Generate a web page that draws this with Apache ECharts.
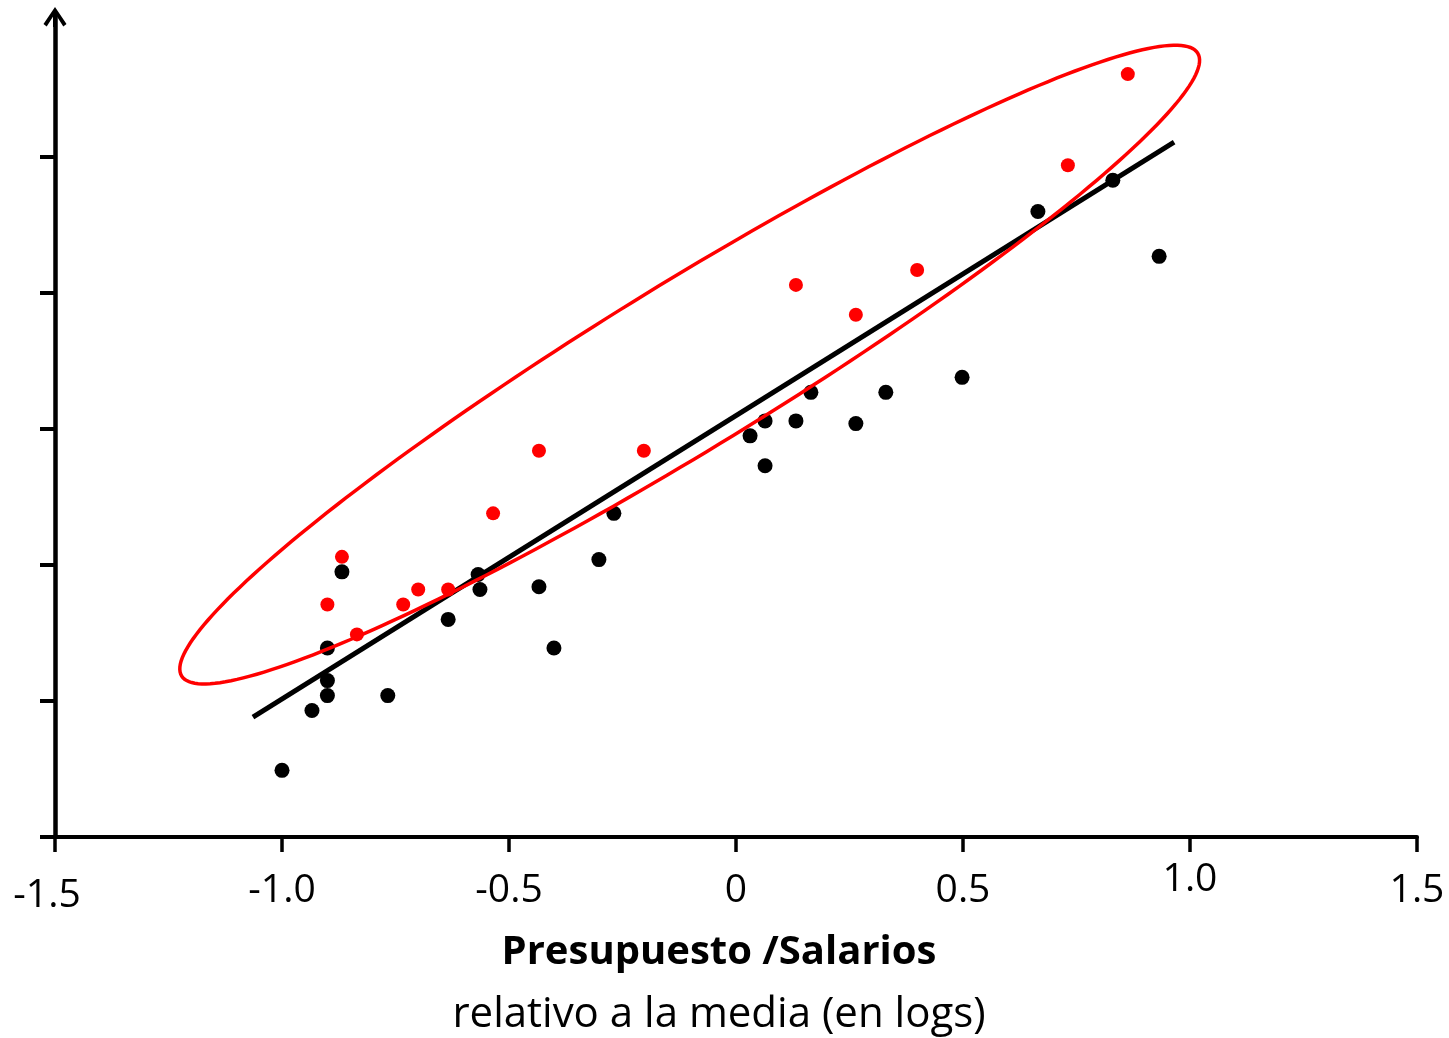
<!DOCTYPE html>
<html>
<head>
<meta charset="utf-8">
<script src="https://cdn.jsdelivr.net/npm/echarts@6/dist/echarts.min.js"></script>
<style>
  html, body { margin: 0; padding: 0; background: #fff; }
  #report-chart { width: 1449px; height: 1038px; }
</style>
</head>
<body>
<div id="report-chart"></div>
<script>
// black points (x: presupuesto/salarios, y: arbitrary units)
var blackX = [-1.0, -0.934, -0.90, -0.90, -0.90, -0.868, -0.767, -0.634, -0.568, -0.564, -0.434, -0.401, -0.302, -0.269,
              0.031, 0.064, 0.064, 0.132, 0.165, 0.264, 0.330, 0.498, 0.665, 0.830, 0.932];
var blackY = [0.49, 0.93, 1.04, 1.15, 1.39, 1.95, 1.04, 1.60, 1.93, 1.82, 1.84, 1.39, 2.04, 2.38,
              2.95, 3.06, 2.73, 3.06, 3.27, 3.04, 3.27, 3.38, 4.60, 4.83, 4.27];
// red points
var redX = [-0.90, -0.868, -0.835, -0.733, -0.700, -0.634, -0.535, -0.434, -0.203, 0.132, 0.264, 0.399, 0.731, 0.863];
var redY = [1.71, 2.06, 1.49, 1.71, 1.82, 1.82, 2.38, 2.84, 2.84, 4.06, 3.84, 4.17, 4.94, 5.61];
// fitted line end points
var lineX = [-1.064, 0.965];
var lineY = [0.882, 5.11];
// ellipse: centre and two conjugate semi-axis vectors (data units)
var ellCenter = [-0.102, 3.474];
var ellU = [1.119, 2.290];
var ellV = [0.096, -0.521];

var xTicks = [-1.5, -1.0, -0.5, 0, 0.5, 1.0, 1.5];
var yTicks = [0, 1, 2, 3, 4, 5];

var chartDom = document.getElementById('report-chart');
var myChart = echarts.init(chartDom);
var option;

function pairs(xs, ys) {
    return xs.map(function (x, i) { return [x, ys[i]]; });
}

var arrowPath = 'path://M11.5,0 L23,17 L19.8,19.6 L11.5,6.5 L3.2,19.6 L0,17 Z M9.5,3 L13.5,3 L13.5,20 L9.5,20 Z';

option = {
    animation: false,
    textStyle: { fontFamily: 'Open Sans' },
    grid: { left: 55, right: 32, top: 17, bottom: 201, outerBoundsMode: 'none', containLabel: false },
    xAxis: {
        type: 'value',
        min: -1.5,
        max: 1.5,
        interval: 0.5,
        splitLine: { show: false },
        axisLine: { lineStyle: { color: '#000', width: 4 } },
        axisTick: { length: 15, lineStyle: { color: '#000', width: 3.5 } },
        axisLabel: {
            showMinLabel: true,
            showMaxLabel: true,
            margin: 34,
            color: '#000',
            fontFamily: 'Open Sans',
            fontSize: 39,
            formatter: function (v) {
                var s = v === 0 ? '0' : v.toFixed(1);
                if (v === -1.5) return '{lo|' + s + '}';
                if (v === 1) return '{hi|' + s + '}';
                return '{n|' + s + '}';
            },
            rich: {
                n: { fontSize: 39, lineHeight: 40, fontFamily: 'Open Sans', color: '#000' },
                hi: { fontSize: 39, lineHeight: 18, fontFamily: 'Open Sans', color: '#000' },
                lo: { fontSize: 39, lineHeight: 50, fontFamily: 'Open Sans', color: '#000', padding: [0, 16, 0, 0] }
            }
        },
        name: '{b|Presupuesto /Salarios}\n{r|relativo a la media (en logs)}',
        nameLocation: 'middle',
        nameGap: 85,
        nameTextStyle: {
            padding: [0, 34, 0, 0],
            rich: {
                b: { fontSize: 40, fontWeight: 'bold', lineHeight: 62, color: '#000', fontFamily: 'Open Sans' },
                r: { fontSize: 42, lineHeight: 62, color: '#000', fontFamily: 'Open Sans' }
            }
        }
    },
    yAxis: {
        type: 'value',
        min: 0,
        max: 6.03,
        splitLine: { show: false },
        axisLine: {
            show: true,
            onZero: false,
            symbol: ['none', arrowPath],
            symbolSize: [23, 20],
            lineStyle: { color: '#000', width: 4.5 }
        },
        axisTick: { show: true, length: 15, customValues: yTicks, lineStyle: { color: '#000', width: 4 } },
        axisLabel: { show: false }
    },
    series: [{
        name: 'fit',
        type: 'line',
        data: pairs(lineX, lineY),
        showSymbol: false,
        silent: true,
        z: 2,
        lineStyle: { color: '#000', width: 5 }
    }, {
        name: 'black',
        type: 'scatter',
        data: pairs(blackX, blackY),
        symbolSize: 15,
        z: 2,
        itemStyle: { color: '#000', opacity: 1 }
    }, {
        name: 'ellipse',
        type: 'custom',
        silent: true,
        z: 3,
        data: [ellCenter],
        renderItem: function (params, api) {
            var pts = [];
            for (var i = 0; i < 240; i++) {
                var t = i / 240 * Math.PI * 2;
                pts.push(api.coord([
                    ellCenter[0] + ellU[0] * Math.cos(t) + ellV[0] * Math.sin(t),
                    ellCenter[1] + ellU[1] * Math.cos(t) + ellV[1] * Math.sin(t)
                ]));
            }
            return {
                type: 'polygon',
                shape: { points: pts },
                style: { fill: 'none', stroke: '#ff0000', lineWidth: 3.5 }
            };
        }
    }, {
        name: 'red',
        type: 'scatter',
        data: pairs(redX, redY),
        symbolSize: 14,
        z: 4,
        itemStyle: { color: '#ff0000', opacity: 1 }
    }]
};
option && myChart.setOption(option);
</script>
</body>
</html>
